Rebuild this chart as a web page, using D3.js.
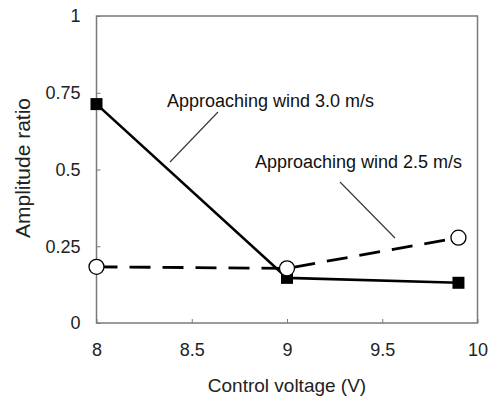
<!DOCTYPE html>
<html>
<head>
<meta charset="utf-8">
<script src="https://cdn.jsdelivr.net/npm/d3@7"></script>
<style>
  html, body { margin: 0; padding: 0; background: #fff; }
  svg { display: block; font-family: "Liberation Sans", Arial, sans-serif; }
</style>
</head>
<body>
<svg id="chart" width="493" height="400"></svg>
<script>
// Control voltage (V) on x, amplitude ratio on y
const voltage30 = [8, 9, 9.9];
const ratio30   = [0.713, 0.147, 0.131];   // approaching wind 3.0 m/s
const voltage25 = [8, 9, 9.9];
const ratio25   = [0.183, 0.178, 0.278];   // approaching wind 2.5 m/s

const xTicks = [8, 8.5, 9, 9.5, 10];
const xTickLabels = ["8", "8.5", "9", "9.5", "10"];
const yTicks = [0, 0.25, 0.5, 0.75, 1];
const yTickLabels = ["0", "0.25", "0.5", "0.75", "1"];

const label30 = "Approaching wind 3.0 m/s";
const label25 = "Approaching wind 2.5 m/s";
const xTitle = "Control voltage (V)";
const yTitle = "Amplitude ratio";

const svg = d3.select("#chart");
const plotLeft = 96.5, plotRight = 477.5, plotTop = 16, plotBottom = 323;

const x = d3.scaleLinear().domain([8, 10]).range([plotLeft, plotRight]);
const y = d3.scaleLinear().domain([0, 1]).range([plotBottom, plotTop]);

const axisColor = "#7a7a7a";

// Frame around the plot area
svg.append("rect")
  .attr("x", plotLeft).attr("y", plotTop)
  .attr("width", plotRight - plotLeft).attr("height", plotBottom - plotTop)
  .attr("fill", "none").attr("stroke", axisColor).attr("stroke-width", 1.5);

// Bottom axis: inward ticks, labels below
const xAxis = d3.axisBottom(x)
  .tickValues(xTicks)
  .tickFormat((d, i) => xTickLabels[i])
  .tickSizeInner(-4).tickSizeOuter(0).tickPadding(20);
const gx = svg.append("g").attr("transform", `translate(0,${plotBottom})`).call(xAxis);
gx.select(".domain").remove();
gx.selectAll(".tick line").attr("stroke", axisColor).attr("stroke-width", 1);
gx.selectAll(".tick text")
  .attr("fill", "#222").attr("font-size", 18)
  .attr("font-family", "Liberation Sans, Arial, sans-serif");

// Left axis: inward ticks, labels right-aligned
const yAxis = d3.axisLeft(y)
  .tickValues(yTicks)
  .tickFormat((d, i) => yTickLabels[i])
  .tickSizeInner(-4).tickSizeOuter(0).tickPadding(16);
const gy = svg.append("g").attr("transform", `translate(${plotLeft},0)`).call(yAxis);
gy.select(".domain").remove();
gy.selectAll(".tick line").attr("stroke", axisColor).attr("stroke-width", 1);
gy.selectAll(".tick text")
  .attr("fill", "#222").attr("font-size", 18)
  .attr("font-family", "Liberation Sans, Arial, sans-serif");

// Axis titles
svg.append("text")
  .attr("x", (plotLeft + plotRight) / 2).attr("y", 392)
  .attr("text-anchor", "middle")
  .attr("font-size", 19).attr("fill", "#222")
  .text(xTitle);

svg.append("text")
  .attr("transform", `translate(30,168) rotate(-90)`)
  .attr("text-anchor", "middle")
  .attr("font-size", 21).attr("fill", "#222")
  .text(yTitle);

const line = d3.line().x(d => x(d[0])).y(d => y(d[1]));

// Series: 3.0 m/s, solid line with filled squares
const pts30 = voltage30.map((v, i) => [v, ratio30[i]]);
svg.append("path")
  .attr("d", line(pts30))
  .attr("fill", "none").attr("stroke", "#000").attr("stroke-width", 2.6);
const sq = 12;
svg.selectAll(".sq").data(pts30).enter().append("rect")
  .attr("x", d => x(d[0]) - sq / 2).attr("y", d => y(d[1]) - sq / 2)
  .attr("width", sq).attr("height", sq)
  .attr("fill", "#000");

// Series: 2.5 m/s, dashed line with open circles
const pts25 = voltage25.map((v, i) => [v, ratio25[i]]);
svg.append("path")
  .attr("d", line(pts25))
  .attr("fill", "none").attr("stroke", "#000").attr("stroke-width", 2.8)
  .attr("stroke-dasharray", "21,12");
svg.selectAll(".ci").data(pts25).enter().append("circle")
  .attr("cx", d => x(d[0])).attr("cy", d => y(d[1]))
  .attr("r", 7.5)
  .attr("fill", "#fff").attr("stroke", "#000").attr("stroke-width", 1.3);

// Annotations with leader lines
svg.append("text")
  .attr("x", 167).attr("y", 107)
  .attr("font-size", 18).attr("fill", "#111")
  .text(label30);
svg.append("line")
  .attr("x1", 218).attr("y1", 112).attr("x2", 170).attr("y2", 162)
  .attr("stroke", "#333").attr("stroke-width", 1.1);

svg.append("text")
  .attr("x", 255).attr("y", 168)
  .attr("font-size", 18).attr("fill", "#111")
  .text(label25);
svg.append("line")
  .attr("x1", 340).attr("y1", 182).attr("x2", 395).attr("y2", 238)
  .attr("stroke", "#333").attr("stroke-width", 1.1);
</script>
</body>
</html>
